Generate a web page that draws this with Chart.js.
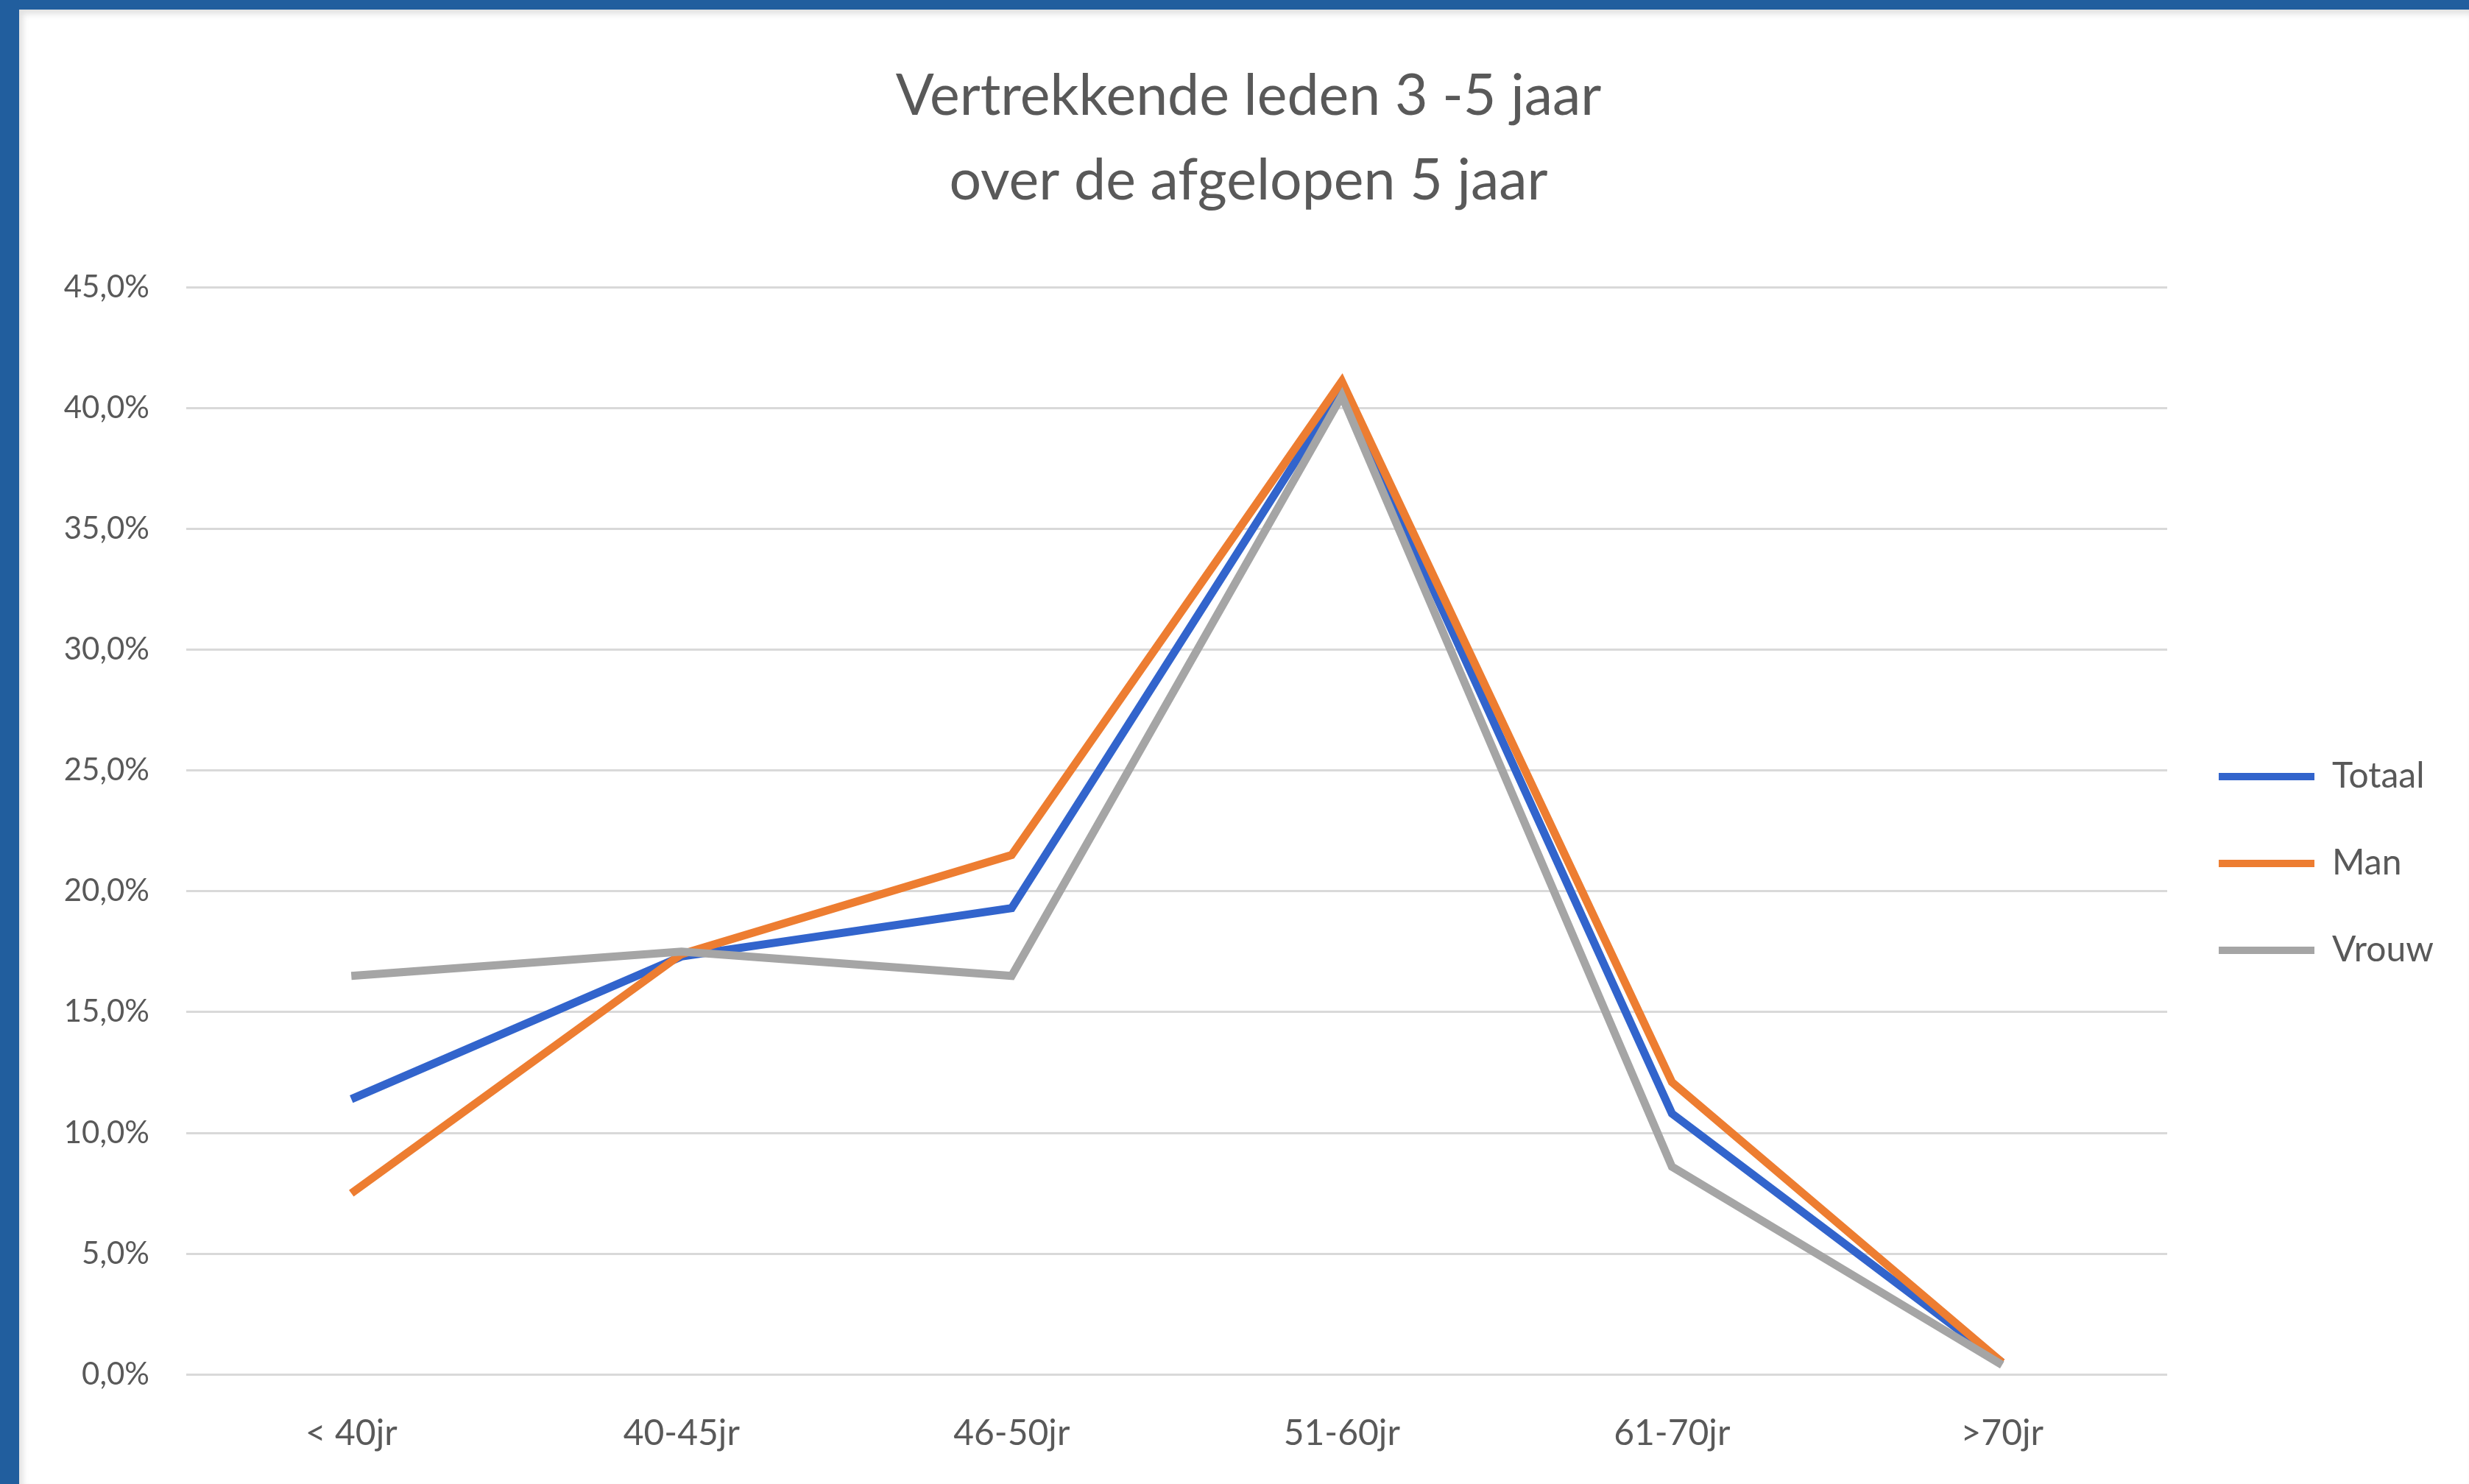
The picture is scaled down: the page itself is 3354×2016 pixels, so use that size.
<!DOCTYPE html>
<html>
<head>
<meta charset="utf-8">
<script src="https://cdn.jsdelivr.net/npm/chart.js"></script>
<style>
  html, body { margin: 0; padding: 0; background: #fff; }
  #frame {
    position: absolute; left: 0; top: 0;
    width: 3328px; height: 2003px;
    border-top: 13px solid #215e9e;
    border-left: 26px solid #215e9e;
    box-shadow: inset 5px 6px 8px rgba(0,0,0,0.12);
    background: #fff;
  }
  #chart { display: block; }
</style>
</head>
<body>
<div id="frame"><canvas id="chart" width="3328" height="2003"></canvas></div>
<script>
const categories = ['< 40jr', '40-45jr', '46-50jr', '51-60jr', '61-70jr', '>70jr'];
const totaal = [11.4, 17.3, 19.3, 40.8, 10.8, 0.5];
const man = [7.5, 17.4, 21.5, 41.1, 12.1, 0.5];
const vrouw = [16.5, 17.5, 16.5, 40.5, 8.6, 0.4];
const titleLines = ['Vertrekkende leden 3 -5 jaar', 'over de afgelopen 5 jaar'];

const textColor = '#595959';
const fontFamily = 'Lato, "Open Sans", sans-serif';

function lineSet(label, data, color, order) {
    return {
        label: label,
        data: data,
        borderColor: color,
        backgroundColor: color,
        borderWidth: 11,
        pointRadius: 0,
        pointHoverRadius: 0,
        tension: 0,
        fill: false,
        order: order
    };
}

new Chart(document.getElementById('chart'), {
    type: 'line',
    data: {
        labels: categories,
        datasets: [
            lineSet('Totaal', totaal, '#3264cc', 2),
            lineSet('Man', man, '#ed7d31', 1),
            lineSet('Vrouw', vrouw, '#a5a5a5', 0)
        ]
    },
    options: {
        responsive: false,
        animation: false,
        layout: { padding: { left: 50, right: 38, top: 0, bottom: -3 } },
        plugins: {
            title: {
                display: true,
                text: titleLines,
                color: textColor,
                font: { family: fontFamily, size: 77, weight: 'normal', lineHeight: 1.5 },
                padding: { top: 60, bottom: 86 }
            },
            legend: {
                position: 'right',
                // empty legend title only pushes the items down
                title: {
                    display: true,
                    text: ' ',
                    font: { size: 10, lineHeight: 1.2 },
                    padding: { top: 302, bottom: 0 }
                },
                labels: {
                    color: textColor,
                    font: { family: fontFamily, size: 48 },
                    boxWidth: 130,
                    boxHeight: 10,
                    padding: 70,
                    sort: (a, b) => a.datasetIndex - b.datasetIndex,
                    generateLabels: function(chart) {
                        return chart.data.datasets.map((ds, i) => ({
                            text: ds.label,
                            fillStyle: ds.borderColor,
                            strokeStyle: ds.borderColor,
                            lineWidth: 0,
                            fontColor: textColor,
                            datasetIndex: i,
                            hidden: false
                        }));
                    }
                }
            },
            tooltip: { enabled: false }
        },
        scales: {
            x: {
                offset: true,
                grid: { display: false },
                border: { display: false },
                ticks: {
                    color: textColor,
                    font: { family: fontFamily, size: 48, lineHeight: 1.2 },
                    padding: 43,
                    maxRotation: 0
                }
            },
            y: {
                min: 0,
                max: 45,
                afterFit: function(scale) { scale.width = 177; },
                grid: { color: '#d9d9d9', lineWidth: 3, drawTicks: false },
                border: { display: false },
                ticks: {
                    stepSize: 5,
                    color: textColor,
                    font: { family: fontFamily, size: 42 },
                    padding: 50,
                    callback: v => v.toFixed(1).replace('.', ',') + '%'
                }
            }
        }
    }
});
</script>
</body>
</html>
